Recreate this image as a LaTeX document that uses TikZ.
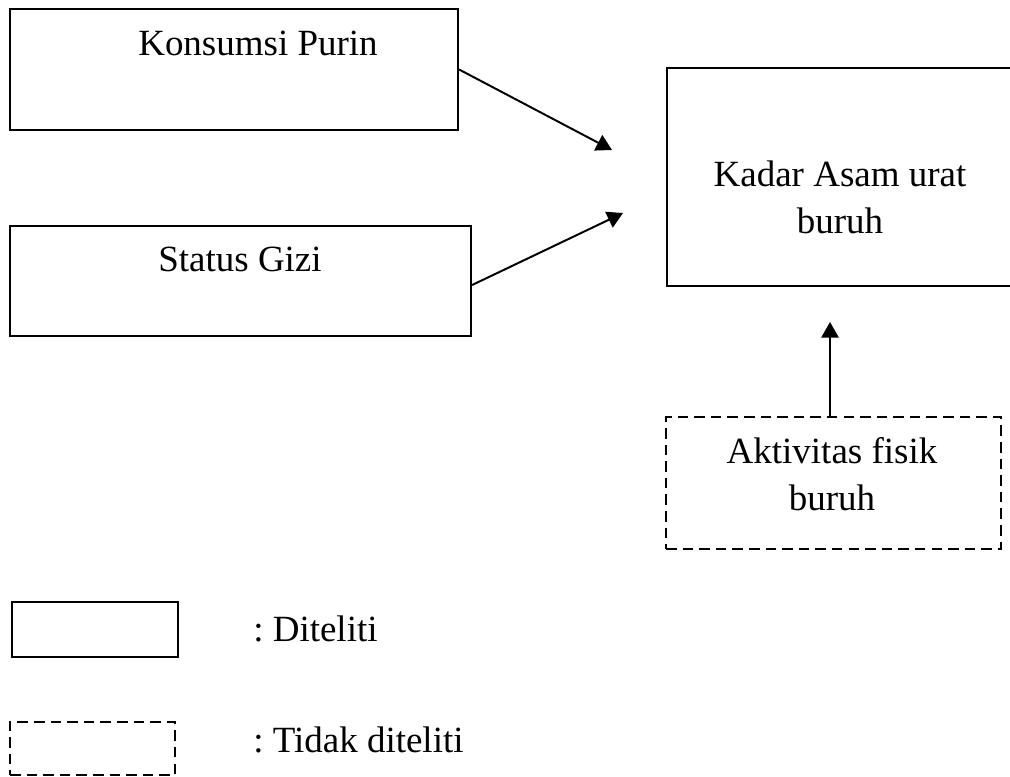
\documentclass[tikz,border=0pt]{standalone}
\usepackage{fontspec}
\setmainfont{Liberation Serif}
\usetikzlibrary{arrows.meta,fit}
\tikzset{
  box/.style={draw, line width=1.6pt, inner sep=0pt},
  dashbox/.style={box, dash pattern=on 7.5pt off 4.3pt},
  label text/.style={font=\fontsize{26.3pt}{33.4pt}\selectfont, inner sep=0pt, align=center},
  arrow/.style={line width=1.4pt, -{Triangle[length=0.39cm, width=0.43cm]}}
}
\begin{document}
\begin{tikzpicture}[x=0.025cm, y=-0.025cm]
\useasboundingbox (0,0) rectangle (1010,776);
% boxes of the scheme
\node[box, fit={(10,9) (458,130)}] (purin) {};
\node[label text, anchor=base] (purin_t) at (258,55) {Konsumsi Purin};
\node[box, fit={(10,226) (471,336)}] (gizi) {};
\node[label text, anchor=base] (gizi_t) at (240,271) {Status Gizi};
\node[box, fit={(667,68) (1030,286)}] (kadar) {};
\node[label text, anchor=base] (kadar_t) at (840,233) {Kadar Asam urat\\buruh};
\node[dashbox, fit={(666,417) (1001,549)}] (aktivitas) {};
\node[label text, anchor=base] (aktivitas_t) at (832,510) {Aktivitas fisik\\buruh};
% arrows
\coordinate (T_1) at (612,150);
\coordinate (T_2) at (623,213);
\coordinate (T_3) at (830,322);
\draw[arrow] (purin.east) -- (T_1);
\draw[arrow] (gizi.east |- 0,285) -- (T_2);
\draw[arrow] (aktivitas.north -| T_3) -- (T_3);
% legend
\node[box, fit={(12,602) (178,657)}] (leg_1) {};
\node[label text, anchor=base west] (leg_1_t) at (253,641) {:\ Diteliti};
\node[dashbox, fit={(10,722) (175,775)}] (leg_2) {};
\node[label text, anchor=base west] (leg_2_t) at (253,752) {:\ Tidak diteliti};
\end{tikzpicture}
\end{document}
